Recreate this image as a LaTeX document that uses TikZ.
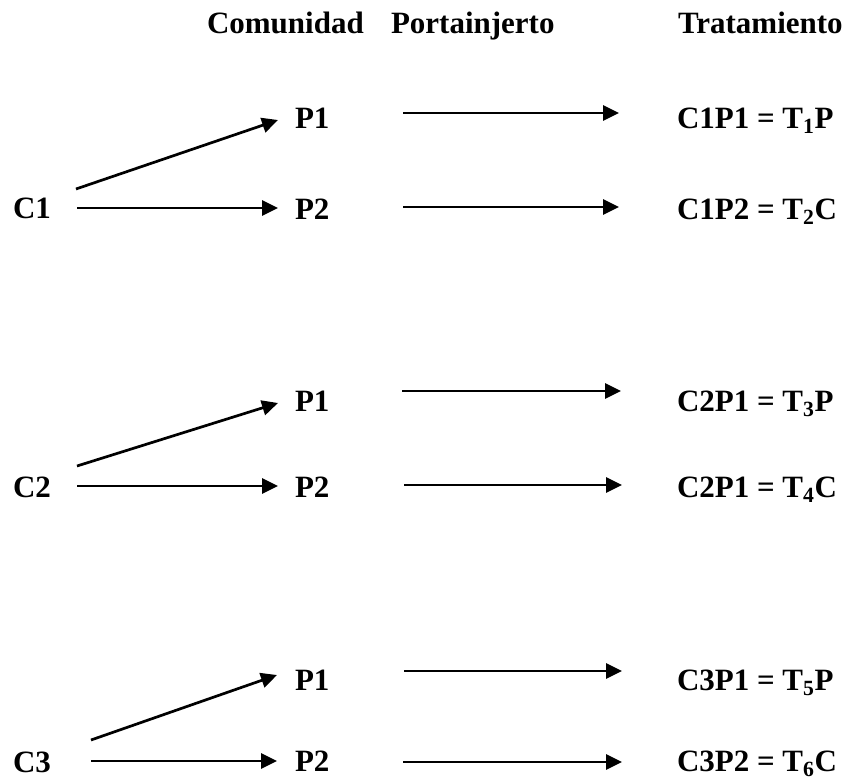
\documentclass[tikz,border=0pt]{standalone}
\usepackage{fontspec}
\setmainfont{Liberation Serif}
\usetikzlibrary{arrows.meta}
\begin{document}
\begin{tikzpicture}[x=1pt,y=-1pt,
  lbl/.style={anchor=base west,inner sep=0pt,outer sep=0pt,font=\fontsize{31}{37}\selectfont\bfseries},
  arr/.style={line width=2.7pt,-{Triangle[length=16pt,width=15pt]}}]
\useasboundingbox (0,0) rectangle (852,780);
% headers
\node[lbl] (hc) at (207,33) {Comunidad};
\node[lbl] (hp) at (391,33) {Portainjerto};
\node[lbl] (ht) at (678,33) {Tratamiento};
% block 1
\node[lbl] (c1) at (13,218) {C1};
\node[lbl] (p1a) at (295,128) {P1};
\node[lbl] (p2a) at (295,219) {P2};
\node[lbl] (t1) at (677,128) {C1P1 = T\textsubscript{1}P};
\node[lbl] (t2) at (677,219) {C1P2 = T\textsubscript{2}C};
% block 2
\node[lbl] (c2) at (13,497) {C2};
\node[lbl] (p1b) at (295,411) {P1};
\node[lbl] (p2b) at (295,497) {P2};
\node[lbl] (t3) at (677,411) {C2P1 = T\textsubscript{3}P};
\node[lbl] (t4) at (677,497) {C2P1 = T\textsubscript{4}C};
% block 3
\node[lbl] (c3) at (13,772) {C3};
\node[lbl] (p1c) at (295,690) {P1};
\node[lbl] (p2c) at (295,771) {P2};
\node[lbl] (t5) at (677,690) {C3P1 = T\textsubscript{5}P};
\node[lbl] (t6) at (677,771) {C3P2 = T\textsubscript{6}C};
% arrow end points
\coordinate (d1s) at (76,189);  \coordinate (d1e) at (278,120);
\coordinate (h1s) at (77,208);  \coordinate (h1e) at (278,208);
\coordinate (m1s) at (403,113); \coordinate (m1e) at (619,113);
\coordinate (m2s) at (403,207); \coordinate (m2e) at (619,207);
\coordinate (d2s) at (77,466);  \coordinate (d2e) at (278,403);
\coordinate (h2s) at (77,486);  \coordinate (h2e) at (278,486);
\coordinate (m3s) at (402,391); \coordinate (m3e) at (621,391);
\coordinate (m4s) at (404,485); \coordinate (m4e) at (622,485);
\coordinate (d3s) at (91,740);  \coordinate (d3e) at (277,675);
\coordinate (h3s) at (91,761);  \coordinate (h3e) at (277,761);
\coordinate (m5s) at (404,671); \coordinate (m5e) at (622,671);
\coordinate (m6s) at (403,762); \coordinate (m6e) at (622,762);
\foreach \a in {d1,h1,m1,m2,d2,h2,m3,m4,d3,h3,m5,m6}
  \draw[arr] (\a s) -- (\a e);
\end{tikzpicture}
\end{document}
